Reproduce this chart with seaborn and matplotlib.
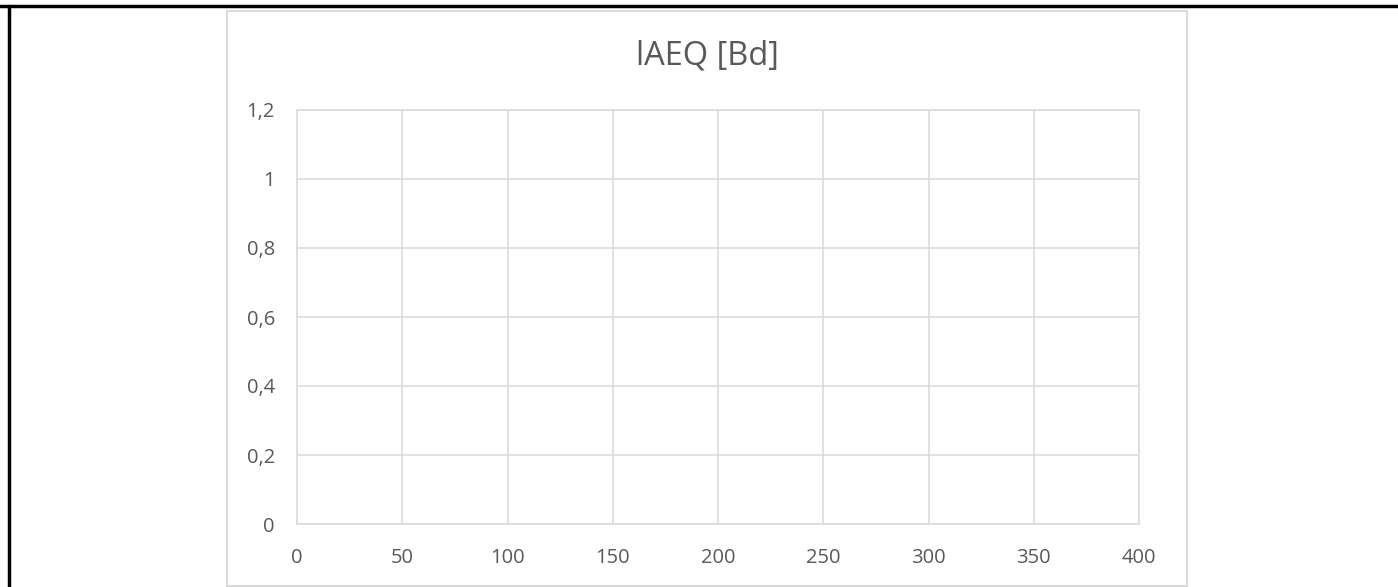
import numpy as np
import pandas as pd
import seaborn as sns
from matplotlib import pyplot as plt
from matplotlib.patches import Rectangle
from matplotlib.lines import Line2D

# chart content (no series plotted, only axes)
title = 'lAEQ [Bd]'
x_ticks = [0, 50, 100, 150, 200, 250, 300, 350, 400]
y_ticks = [0, 0.2, 0.4, 0.6, 0.8, 1.0, 1.2]
y_labels = ['0', '0,2', '0,4', '0,6', '0,8', '1', '1,2']

grid_col = '#D9D9D9'
text_col = '#595959'

sns.set_theme(style='white')
plt.rcParams['font.family'] = ['Open Sans', 'DejaVu Sans']

W, H = 1398, 587
fig = plt.figure(figsize=(W / 100, H / 100), dpi=100)

# plot area in pixels: left 297, right 1139, top 110, bottom 524
ax = fig.add_axes([297 / W, 1 - 524 / H, (1139 - 297) / W, (524 - 110) / H])
df = pd.DataFrame({'x': pd.Series([], dtype=float), 'y': pd.Series([], dtype=float)})
sns.lineplot(data=df, x='x', y='y', ax=ax)

ax.set_xlim(x_ticks[0], x_ticks[-1])
ax.set_ylim(y_ticks[0], y_ticks[-1])
ax.set_xticks(x_ticks)
ax.set_xticklabels([str(v) for v in x_ticks])
ax.set_yticks(y_ticks)
ax.set_yticklabels(y_labels)
ax.set_xlabel('')
ax.set_ylabel('')
ax.grid(True, color=grid_col, linewidth=1.1)
ax.set_axisbelow(True)
for side in ['top', 'right', 'left', 'bottom']:
    ax.spines[side].set_visible(True)
    ax.spines[side].set_color(grid_col)
    ax.spines[side].set_linewidth(1.1)
ax.tick_params(axis='both', length=0, labelsize=14.5, colors=text_col)
ax.tick_params(axis='y', pad=16)
ax.tick_params(axis='x', pad=17)

# chart area border
fig.patches.append(Rectangle((227 / W, 1 - 586 / H), (1187 - 227) / W, (586 - 11) / H,
                             transform=fig.transFigure, fill=False,
                             edgecolor=grid_col, linewidth=1.4, zorder=0))

# outer black frame lines (top and left only)
fig.lines.append(Line2D([0, 1], [1 - 5.5 / H, 1 - 5.5 / H], transform=fig.transFigure,
                        color='black', linewidth=2.5))
fig.lines.append(Line2D([8.5 / W, 8.5 / W], [0, 1 - 5.5 / H], transform=fig.transFigure,
                        color='black', linewidth=2.5))

fig.text(707 / W, 1 - 56 / H, title, ha='center', va='center', fontsize=23.5, color=text_col)

plt.savefig('out.png', dpi=100)
